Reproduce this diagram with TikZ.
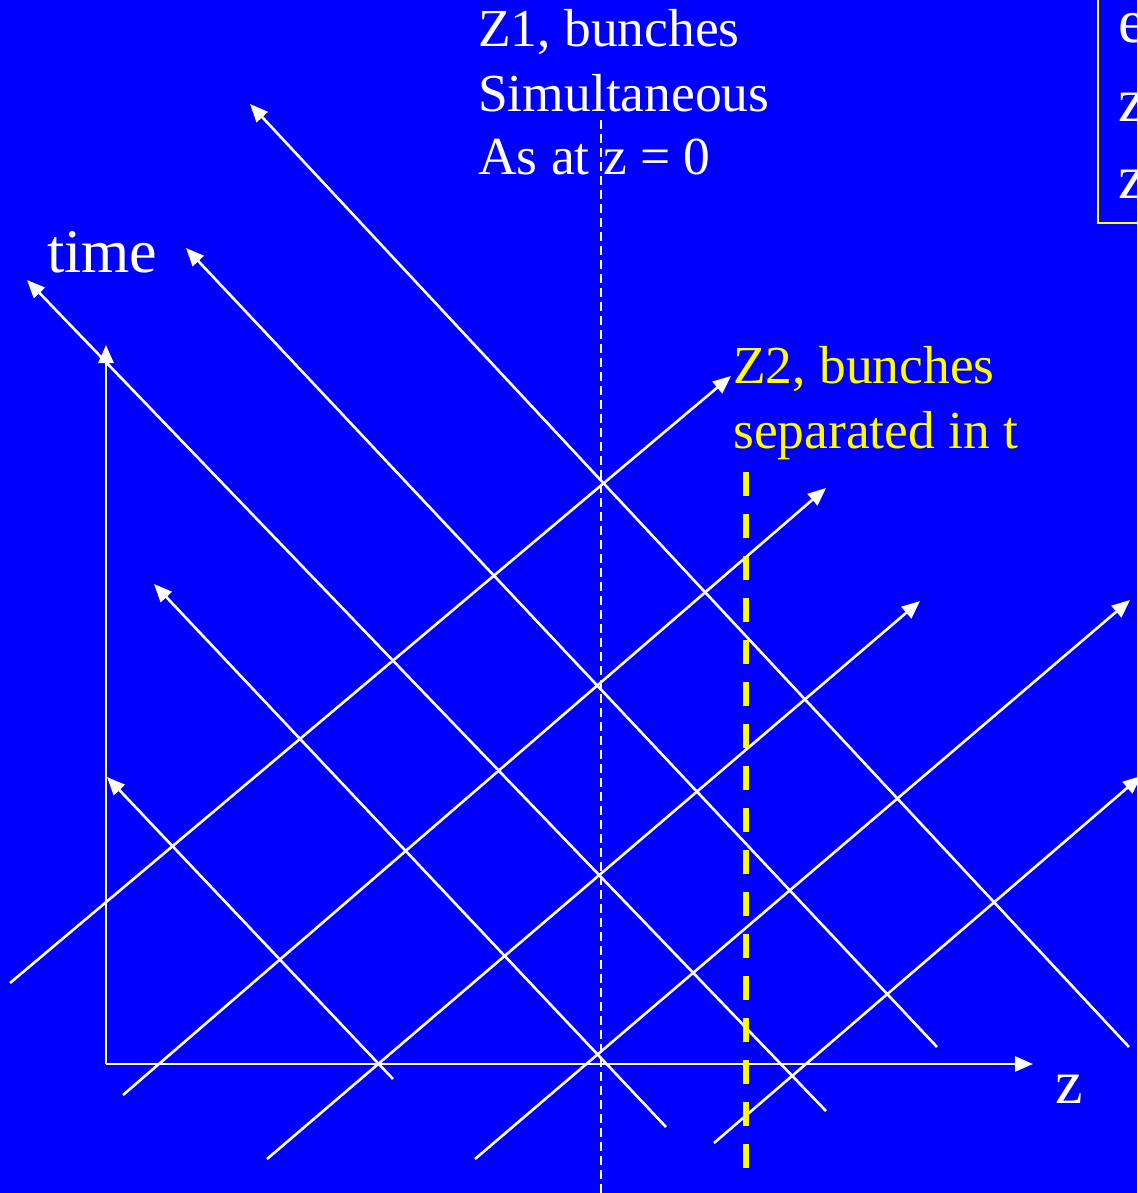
\documentclass[tikz,border=0pt]{standalone}
\usepackage{fontspec}
\setmainfont{Liberation Serif}
\usetikzlibrary{arrows.meta}
\definecolor{bgblue}{RGB}{0,0,255}
\definecolor{yel}{RGB}{255,255,0}
\begin{document}
\begin{tikzpicture}[x=1pt,y=-1pt,
  wl/.style={white, line width=2.6pt},
  arr/.style={wl, -{Triangle[length=18pt,width=15pt]}},
  lbl/.style={inner sep=0pt, anchor=base west, font=\fontsize{53.5}{62}\selectfont},
  big/.style={inner sep=0pt, anchor=base west, font=\fontsize{62}{70}\selectfont},
  boxtxt/.style={inner sep=0pt, anchor=base west, font=\fontsize{62}{72}\selectfont, white}]
\useasboundingbox (0,0) rectangle (1137,1193);
\fill[bgblue] (0,0) rectangle (1137,1193);
\clip (0,0) rectangle (1137,1193);

% coordinates
\coordinate (O) at (106,1064);
\coordinate (T) at (106,345);
\coordinate (Z) at (1033,1064);
\coordinate (A1s) at (1129,1047); \coordinate (A1e) at (250,104);
\coordinate (A2s) at (937,1047);  \coordinate (A2e) at (186,248);
\coordinate (A3s) at (826,1111);  \coordinate (A3e) at (27,280);
\coordinate (A4s) at (666,1127);  \coordinate (A4e) at (154,584);
\coordinate (A5s) at (393,1079);  \coordinate (A5e) at (107,777);
\coordinate (B1s) at (10,983);    \coordinate (B1e) at (731,376);
\coordinate (B2s) at (123,1095);  \coordinate (B2e) at (826,488);
\coordinate (B3s) at (267,1159);  \coordinate (B3e) at (920,601);
\coordinate (B4s) at (475,1159);  \coordinate (B4e) at (1130,600);
\coordinate (B5s) at (714,1143);  \coordinate (B5e) at (1141,776);
\coordinate (D1s) at (601,120);   \coordinate (D1e) at (601,1193);
\coordinate (D2s) at (746,472);   \coordinate (D2e) at (746,1168);

% axes
\draw[arr] (O) -- (T);
\draw[arr] (O) -- (Z);

% world lines
\foreach \n in {A1,A2,A3,A4,A5,B1,B2,B3,B4,B5}
  \draw[arr] (\n s) -- (\n e);

% simultaneity line
\draw[white, line width=2pt, dash pattern=on 9pt off 5pt] (D1s) -- (D1e);
% yellow dashed line
\draw[yel, line width=6pt, dash pattern=on 24pt off 18pt] (D2s) -- (D2e);

% labels
\node[big, white] (time) at (47,272) {time};
\node[big, white] (zlab) at (1055,1103) {z};
\node[lbl, white] (z1a) at (478,47) {Z1, bunches};
\node[lbl, white] (z1b) at (478,112) {Simultaneous};
\node[lbl, white] (z1c) at (478,175) {As at z = 0};
\node[lbl, yel] (z2a) at (733,383) {Z2, bunches};
\node[lbl, yel] (z2b) at (733,448) {separated in t};

% cut-off box at top right
\draw[yel, line width=1.8pt] (1098,223) rectangle (1170,-20);
\node[boxtxt] (bx1) at (1118,43) {e};
\node[boxtxt] (bx2) at (1118,122) {z};
\node[boxtxt] (bx3) at (1118,198) {z};
\end{tikzpicture}
\end{document}
